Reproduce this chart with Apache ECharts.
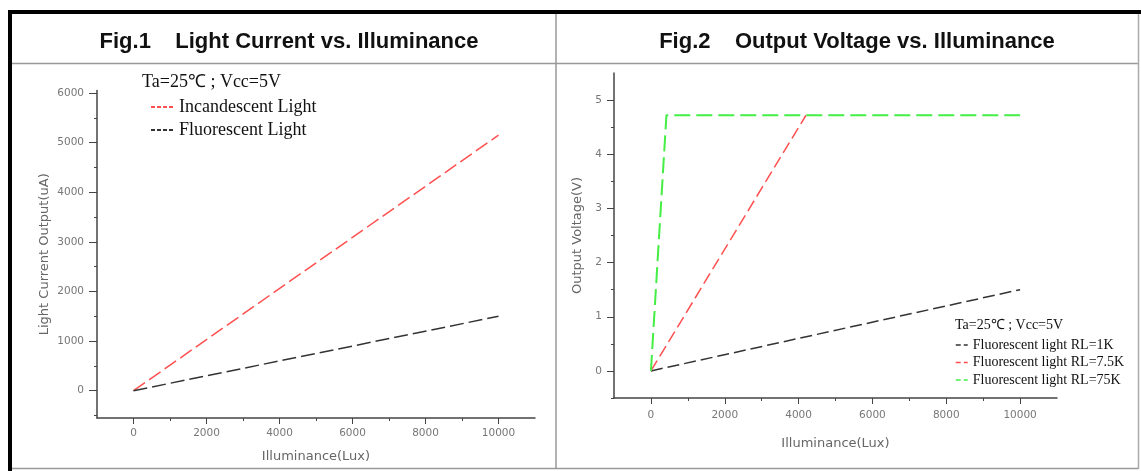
<!DOCTYPE html>
<html><head><meta charset="utf-8">
<script src="https://cdn.jsdelivr.net/npm/echarts@6/dist/echarts.min.js"></script>
<style>html,body{margin:0;padding:0;background:#fff}#c{width:1141px;height:471px}</style>
</head><body><div id="c"></div>
<script>
// Fig.1 data
const fig1X = [0, 10000];
const incandescent = [0, 5150];
const fluorescent = [0, 1500];
// Fig.2 data
const rl1kX = [0, 10000];
const rl1k = [0, 1.5];
const rl75X = [0, 4200];
const rl75 = [0, 4.72];
const rl750X = [0, 420, 10000];
const rl750 = [0, 4.72, 4.72];
// tick labels
const xMajor = [0, 2000, 4000, 6000, 8000, 10000];
const xMinor = [1000, 3000, 5000, 7000, 9000];
const y1Major = [0, 1000, 2000, 3000, 4000, 5000, 6000];
const y1Minor = [-500, 500, 1500, 2500, 3500, 4500, 5500];
const y2Major = [0, 1, 2, 3, 4, 5];
const y2Minor = [-0.5, 0.5, 1.5, 2.5, 3.5, 4.5];

const zip = (xs, ys) => xs.map((x, i) => [x, ys[i]]);
const axisCol = '#444';
const labCol = '#777';
const sans = 'DejaVu Sans, Arial';
const serif = 'Liberation Serif, Times New Roman, serif';

function majorAxis(gi, pos, min, max, major, name, gap, margin, tickLen) {
  return {
    type: 'value', gridIndex: gi, position: pos, min, max,
    name, nameLocation: 'middle', nameGap: gap, nameMoveOverlap: false,
    nameTextStyle: { color: '#666', fontSize: 13, fontFamily: sans },
    axisLine: { show: true, onZero: false, lineStyle: { color: axisCol, width: 1.5 } },
    axisTick: { show: true, customValues: major, length: tickLen, lineStyle: { color: axisCol } },
    axisLabel: { customValues: major, color: labCol, fontSize: 10.5, fontFamily: sans, margin,
      formatter: v => String(v) },
    splitLine: { show: false }
  };
}
function minorAxis(gi, pos, min, max, minor) {
  return {
    type: 'value', gridIndex: gi, position: pos, min, max,
    axisLine: { show: false, onZero: false },
    axisTick: { show: true, customValues: minor, length: 3, lineStyle: { color: axisCol } },
    axisLabel: { show: false },
    splitLine: { show: false }
  };
}

const chart = echarts.init(document.getElementById('c'), null, { renderer: 'canvas' });
chart.setOption({
  animation: false,
  backgroundColor: '#fff',
  title: [
    { text: 'Fig.1    Light Current vs. Illuminance', left: 284, top: 26, textAlign: 'center',
      textStyle: { fontFamily: 'Liberation Sans, Arial', fontWeight: 'bold', fontSize: 22, color: '#111' } },
    { text: 'Fig.2    Output Voltage vs. Illuminance', left: 852, top: 26, textAlign: 'center',
      textStyle: { fontFamily: 'Liberation Sans, Arial', fontWeight: 'bold', fontSize: 22, color: '#111' } }
  ],
  grid: [
    { left: 97, right: 606, top: 90.5, bottom: 53 },
    { left: 614, right: 84, top: 73, bottom: 73 }
  ],
  xAxis: [
    majorAxis(0, 'bottom', -1000, 11000, xMajor, 'Illuminance(Lux)', 32, 10, 6),
    minorAxis(0, 'bottom', -1000, 11000, xMinor),
    majorAxis(1, 'bottom', -1000, 11000, xMajor, 'Illuminance(Lux)', 39, 12, 6),
    minorAxis(1, 'bottom', -1000, 11000, xMinor)
  ],
  yAxis: [
    majorAxis(0, 'left', -550, 6050, y1Major, 'Light Current Output(uA)', 46, 13, 8),
    minorAxis(0, 'left', -550, 6050, y1Minor),
    majorAxis(1, 'left', -0.5, 5.5, y2Major, 'Output Voltage(V)', 30, 12, 7),
    minorAxis(1, 'left', -0.5, 5.5, y2Minor)
  ],
  legend: [
    { data: ['Incandescent Light', 'Fluorescent Light'], orient: 'vertical', left: 150, top: 98, padding: 0,
      itemWidth: 23, itemHeight: 8, itemGap: 5,
      itemStyle: { opacity: 0 }, lineStyle: { type: [4, 2], width: 2 },
      textStyle: { fontFamily: serif, fontSize: 18, color: '#111' } },
    { data: ['Fluorescent light RL=1K', 'Fluorescent light RL=7.5K', 'Fluorescent light RL=75K'],
      orient: 'vertical', left: 955, top: 338, padding: 0, itemWidth: 12, itemHeight: 6, itemGap: 3.5,
      itemStyle: { opacity: 0 }, lineStyle: { type: [5, 3], width: 1.5 },
      textStyle: { fontFamily: serif, fontSize: 14, color: '#111' } }
  ],
  graphic: [
    { type: 'text', left: 142, top: 73, style: { text: 'Ta=25℃ ; Vcc=5V', font: '18px ' + serif, fill: '#111' } },
    { type: 'text', left: 955, top: 318, style: { text: 'Ta=25℃ ; Vcc=5V', font: '14px ' + serif, fill: '#111' } },
    // frame
    { type: 'line', shape: { x1: 8, y1: 12, x2: 1141, y2: 12 }, style: { stroke: '#000', lineWidth: 4 } },
    { type: 'line', shape: { x1: 10, y1: 10, x2: 10, y2: 471 }, style: { stroke: '#000', lineWidth: 4 } },
    { type: 'line', shape: { x1: 12, y1: 63.5, x2: 1138, y2: 63.5 }, style: { stroke: '#999', lineWidth: 1.5 } },
    { type: 'line', shape: { x1: 556, y1: 14, x2: 556, y2: 469 }, style: { stroke: '#999', lineWidth: 1.5 } },
    { type: 'line', shape: { x1: 1138.5, y1: 14, x2: 1138.5, y2: 469 }, style: { stroke: '#aaa', lineWidth: 1.5 } },
    { type: 'line', shape: { x1: 12, y1: 468.5, x2: 1138, y2: 468.5 }, style: { stroke: '#999', lineWidth: 1.5 } }
  ],
  series: [
    { name: 'Incandescent Light', type: 'line', xAxisIndex: 0, yAxisIndex: 0, symbol: 'none', data: zip(fig1X, incandescent),
      color: '#ff5050', lineStyle: { color: '#ff5050', width: 1.5, type: [14, 5] } },
    { name: 'Fluorescent Light', type: 'line', xAxisIndex: 0, yAxisIndex: 0, symbol: 'none', data: zip(fig1X, fluorescent),
      color: '#333', lineStyle: { color: '#333', width: 1.5, type: [14, 5] } },
    { name: 'Fluorescent light RL=1K', type: 'line', xAxisIndex: 2, yAxisIndex: 2, symbol: 'none', data: zip(rl1kX, rl1k),
      color: '#333', lineStyle: { color: '#333', width: 1.5, type: [12, 5] } },
    { name: 'Fluorescent light RL=7.5K', type: 'line', xAxisIndex: 2, yAxisIndex: 2, symbol: 'none', data: zip(rl75X, rl75),
      color: '#ff5050', lineStyle: { color: '#ff5050', width: 1.5, type: [12, 5] } },
    { name: 'Fluorescent light RL=75K', type: 'line', xAxisIndex: 2, yAxisIndex: 2, symbol: 'none', data: zip(rl750X, rl750),
      color: '#44ee44', lineStyle: { color: '#44ee44', width: 2, type: [16, 6] } }
  ]
});
</script></body></html>
